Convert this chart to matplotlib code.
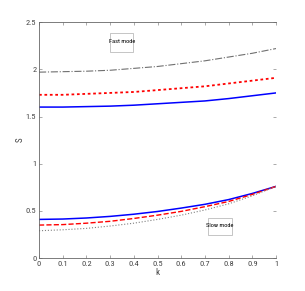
import numpy as np
import matplotlib
matplotlib.use("Agg")
import matplotlib.pyplot as plt
from matplotlib.patches import Rectangle

k = [0.0, 0.1, 0.2, 0.3, 0.4, 0.5, 0.6, 0.7, 0.8, 0.9, 1.0]

fast_blue = [1.60, 1.600, 1.605, 1.610, 1.620, 1.635, 1.650, 1.665, 1.690, 1.720, 1.750]
fast_red = [1.73, 1.730, 1.740, 1.750, 1.760, 1.780, 1.800, 1.820, 1.850, 1.880, 1.910]
fast_gray = [1.97, 1.975, 1.980, 1.990, 2.010, 2.030, 2.060, 2.090, 2.130, 2.170, 2.220]

slow_blue = [0.41, 0.414, 0.425, 0.442, 0.465, 0.494, 0.530, 0.570, 0.620, 0.685, 0.760]
slow_red = [0.35, 0.355, 0.370, 0.390, 0.420, 0.455, 0.495, 0.545, 0.600, 0.675, 0.760]
slow_gray = [0.29, 0.300, 0.315, 0.340, 0.370, 0.410, 0.455, 0.510, 0.575, 0.660, 0.760]

xticks = [0, 0.1, 0.2, 0.3, 0.4, 0.5, 0.6, 0.7, 0.8, 0.9, 1]
xticklabels = ["0", "0.1", "0.2", "0.3", "0.4", "0.5", "0.6", "0.7", "0.8", "0.9", "1"]
yticks = [0, 0.5, 1, 1.5, 2, 2.5]
yticklabels = ["0", "0.5", "1", "1.5", "2", "2.5"]

narrow = ["Roboto Condensed", "DejaVu Sans"]

fig = plt.figure(figsize=(3.05, 2.91), dpi=100, facecolor="white")
ax = fig.add_axes([0.128, 0.113, 0.777, 0.811])

ax.plot(k, fast_blue, color="blue", lw=1.1, ls="-")
ax.plot(k, fast_red, color="red", lw=1.3, ls=(0, (1.5, 1.5)))
ax.plot(k, fast_gray, color="#707070", lw=0.8, ls="-.")
ax.plot(k, slow_blue, color="blue", lw=1.1, ls="-")
ax.plot(k, slow_red, color="red", lw=1.0, ls="--")
ax.plot(k, slow_gray, color="#808080", lw=0.8, ls=":")

ax.set_xlim(0, 1)
ax.set_ylim(0, 2.5)
ax.set_xticks(xticks)
ax.set_xticklabels(xticklabels, fontsize=6, color="#444444", family=narrow)
ax.set_yticks(yticks)
ax.set_yticklabels(yticklabels, fontsize=6, color="#444444", family=narrow)
ax.tick_params(direction="in", length=2.5, width=0.5, top=True, right=True,
               color="#888888", pad=2)
for s in ax.spines.values():
    s.set_linewidth(0.6)
    s.set_color("#666666")
ax.spines["right"].set_visible(False)

ax.set_xlabel("k", fontsize=6.5, labelpad=1, color="#444444", family=narrow)
ax.set_ylabel("S", fontsize=6.5, labelpad=1, color="#444444", family=narrow)

# annotation boxes
ax.add_patch(Rectangle((0.300, 2.18), 0.097, 0.20, fc="white", ec="#bbbbbb", lw=0.6))
ax.text(0.3485, 2.29, "Fast mode", fontsize=4.6, ha="center", va="center", family=narrow)
ax.add_patch(Rectangle((0.713, 0.245), 0.101, 0.18, fc="white", ec="#bbbbbb", lw=0.6))
ax.text(0.7635, 0.345, "Slow mode", fontsize=4.6, ha="center", va="center", family=narrow)

fig.savefig("out.png", dpi=100)
